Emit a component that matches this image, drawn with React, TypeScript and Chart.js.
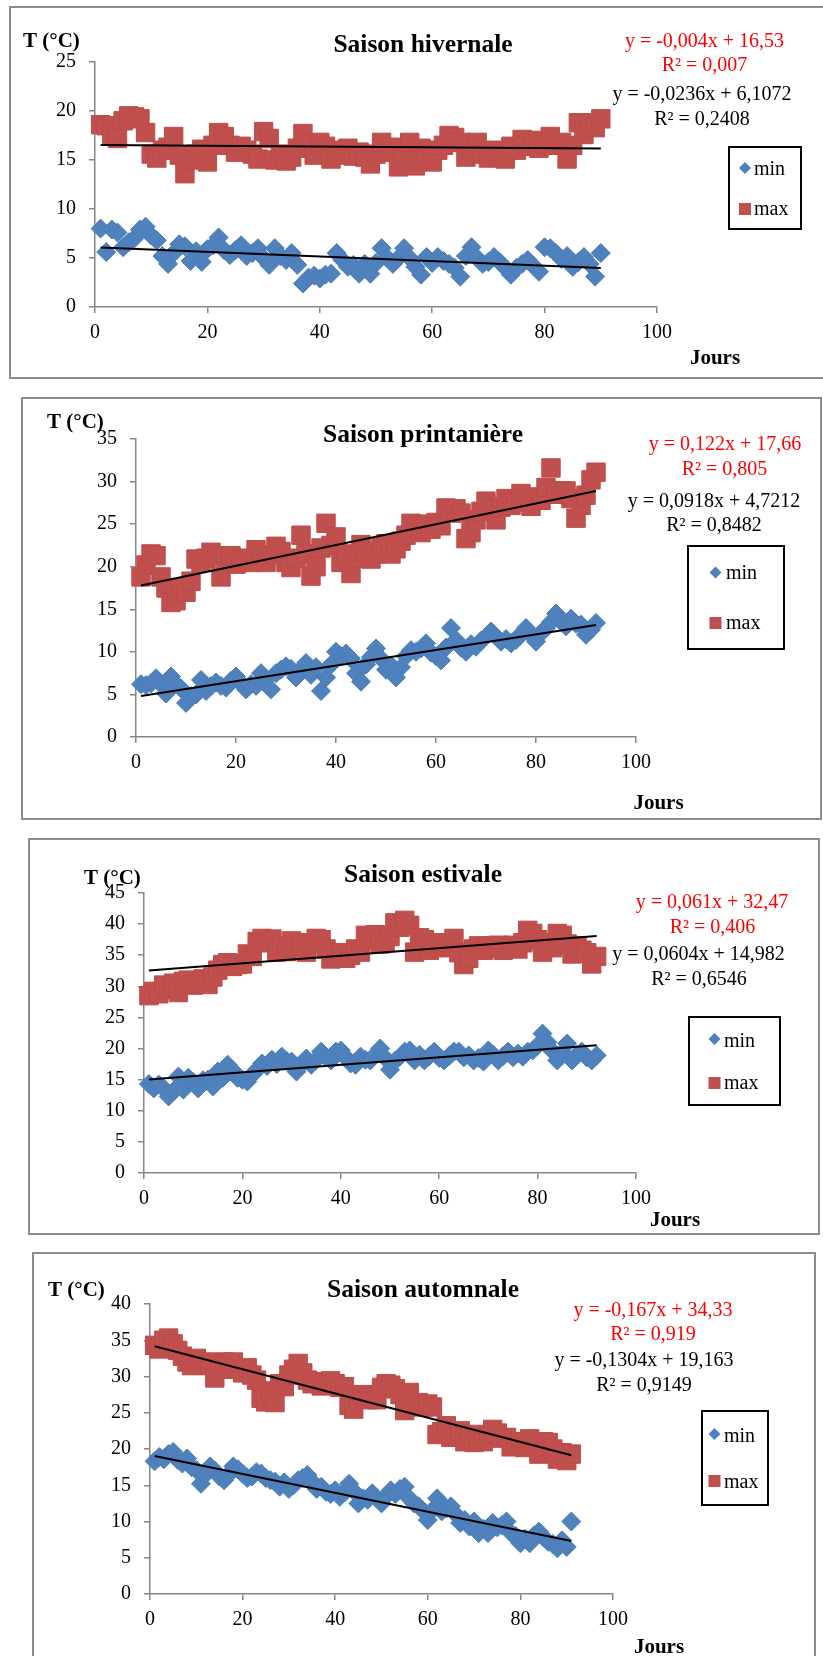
import React, { useEffect, useRef } from 'react';
import { Chart, registerables } from 'chart.js';
Chart.register(...registerables);

const SERIF = '"Liberation Serif", "Times New Roman", serif';
const BLUE = '#4F81BD';
const BLUE_B = '#4A7EBB';
const RED = '#C0504D';
const RED_B = '#BE4B48';

// ---------- Saison hivernale (90 jours) ----------
const winterMin = [
  8.0, 5.6, 7.9, 7.6, 6.1, 6.6, 7.0, 7.9, 8.2, 7.3,
  6.8, 5.2, 4.4, 5.5, 6.4, 6.2, 4.7, 5.7, 4.6, 5.9,
  6.3, 7.1, 5.8, 5.3, 5.8, 6.3, 5.2, 5.5, 6.0, 5.0,
  4.3, 6.0, 5.2, 4.8, 5.5, 4.3, 2.4, 3.0, 3.2, 2.9,
  3.3, 3.4, 5.5, 4.8, 4.1, 4.3, 3.4, 4.4, 3.4, 4.5,
  6.0, 5.0, 4.4, 5.0, 6.0, 5.0, 4.1, 3.3, 5.1, 4.5,
  5.1, 4.7, 4.4, 4.0, 3.1, 5.2, 6.1, 5.0, 4.4, 4.6,
  5.1, 4.6, 4.0, 3.3, 4.0, 4.4, 4.8, 4.2, 3.6, 6.1,
  6.0, 5.5, 4.9, 5.2, 4.1, 4.6, 5.1, 4.4, 3.1, 5.5,
];
const winterMax = [
  18.6, 18.5, 17.5, 17.2, 19.0, 19.5, 19.4, 19.2, 17.8, 15.6,
  15.2, 16.0, 16.3, 17.4, 15.5, 13.6, 15.0, 15.6, 16.1, 14.8,
  16.5, 17.8, 17.4, 16.5, 15.8, 16.4, 16.0, 15.6, 15.1, 17.9,
  17.2, 15.0, 15.6, 14.9, 15.3, 16.2, 17.7, 16.6, 15.5, 16.8,
  16.4, 15.1, 16.0, 15.5, 16.2, 15.4, 15.8, 15.3, 14.6, 15.6,
  16.8, 15.8, 16.3, 14.3, 15.2, 16.8, 14.4, 16.2, 15.5, 14.8,
  16.0, 16.5, 17.5, 17.3, 16.8, 15.3, 16.2, 16.8, 15.6, 15.2,
  16.0, 15.4, 15.1, 16.4, 16.0, 17.1, 16.4, 17.0, 16.2, 16.7,
  17.4, 16.5, 16.8, 15.1, 16.5, 18.8, 17.6, 18.8, 18.3, 19.2,
];
const winterTrendMin = [-0.0236, 6.1072];
const winterTrendMax = [-0.004, 16.53];
const winterEq = ['y = -0,004x + 16,53', 'R² = 0,007', 'y = -0,0236x + 6,1072', 'R² = 0,2408'];

// ---------- Saison printanière (92 jours) ----------
const springMin = [
  6.2, 6.1, 6.3, 6.9, 6.2, 5.1, 7.1, 6.2, 5.7, 4.0,
  4.8, 5.0, 6.7, 5.4, 6.0, 6.4, 6.0, 5.8, 6.6, 7.1,
  6.3, 5.6, 6.2, 6.0, 7.5, 6.8, 5.6, 7.5, 7.9, 8.3,
  8.0, 7.0, 7.9, 8.7, 7.3, 8.2, 5.4, 7.0, 8.5, 10.0,
  9.5, 9.8, 9.2, 7.5, 6.5, 8.5, 9.4, 10.4, 9.2, 7.9,
  8.4, 7.0, 8.2, 9.5, 10.2, 10.0, 10.4, 11.0, 9.9, 9.5,
  9.0, 10.5, 12.8, 11.4, 10.5, 10.0, 10.9, 10.6, 11.3, 11.8,
  12.4, 11.8, 11.2, 11.5, 11.0, 11.4, 12.1, 12.8, 12.0, 11.2,
  12.2, 12.8, 13.5, 14.5, 13.6, 13.0, 13.9, 13.3, 13.2, 12.0,
  12.6, 13.4,
];
const springMax = [
  18.8, 20.2, 21.5, 21.3, 18.8, 17.5, 15.8, 16.0, 17.5, 17.0,
  18.3, 20.9, 20.5, 21.0, 21.7, 21.3, 18.8, 20.6, 21.3, 20.3,
  20.8, 21.0, 20.5, 22.0, 21.2, 20.5, 21.4, 22.4, 21.8, 20.5,
  19.9, 21.0, 23.7, 21.5, 18.9, 20.0, 22.2, 25.1, 22.5, 23.5,
  20.5, 21.5, 19.2, 21.0, 22.6, 21.8, 20.9, 21.5, 22.3, 22.7,
  21.5, 22.1, 23.0, 23.7, 25.1, 24.8, 24.0, 25.0, 24.4, 25.2,
  24.8, 26.9, 26.5, 26.8, 26.3, 23.3, 24.0, 25.5, 26.5, 27.7,
  26.8, 25.5, 27.0, 28.0, 27.2, 27.6, 28.6, 28.0, 27.1, 28.2,
  27.8, 29.3, 31.6, 28.5, 28.9, 28.9, 28.0, 25.7, 27.2, 28.4,
  30.2, 31.1,
];
const springTrendMin = [0.0918, 4.7212];
const springTrendMax = [0.122, 17.66];
const springEq = ['y = 0,122x + 17,66', 'R² = 0,805', 'y = 0,0918x + 4,7212', 'R² = 0,8482'];

// ---------- Saison estivale (92 jours) ----------
const summerMin = [
  14.3, 13.6, 14.2, 13.6, 12.3, 13.2, 15.5, 13.4, 15.3, 14.6,
  13.6, 14.9, 15.0, 13.9, 16.3, 15.3, 17.4, 16.5, 15.3, 15.0,
  14.7, 15.8, 16.6, 17.6, 17.2, 18.2, 17.5, 18.7, 18.0, 17.9,
  16.3, 17.5, 18.4, 17.4, 18.2, 19.5, 18.6, 18.1, 19.5, 19.7,
  18.6, 17.6, 17.4, 18.7, 18.2, 18.1, 19.0, 20.0, 18.5, 16.6,
  18.0, 18.7, 19.5, 19.7, 18.1, 19.0, 18.1, 18.8, 19.5, 18.5,
  18.1, 18.8, 19.5, 19.5, 18.6, 18.9, 18.1, 18.5, 17.9, 19.7,
  19.0, 18.1, 18.8, 19.5, 18.6, 19.2, 18.7, 19.5, 19.7, 20.5,
  22.4, 21.0, 19.6, 18.1, 19.4, 20.8, 18.1, 19.0, 19.5, 18.6,
  18.1, 18.9,
];
const summerMax = [
  28.5, 29.2, 28.8, 30.2, 29.5, 30.5, 29.0, 30.8, 31.0, 30.2,
  30.5, 31.2, 30.3, 31.5, 32.6, 33.5, 33.8, 33.2, 33.5, 33.6,
  35.2, 34.8, 37.2, 37.7, 37.0, 37.6, 35.5, 36.5, 35.6, 37.3,
  36.2, 37.0, 35.5, 36.8, 37.7, 37.5, 36.0, 34.4, 35.0, 35.4,
  34.5, 35.0, 36.0, 35.5, 38.2, 37.5, 38.3, 36.8, 37.0, 38.0,
  40.2, 39.5, 40.6, 39.8, 35.5, 37.8, 37.5, 35.8, 36.8, 37.0,
  36.2, 37.0, 37.7, 35.4, 33.5, 34.5, 36.0, 36.5, 35.8, 36.5,
  36.2, 36.6, 35.8, 36.4, 36.6, 36.0, 37.0, 39.0, 38.5, 37.5,
  35.5, 37.0, 36.2, 38.5, 38.2, 36.8, 35.2, 36.5, 35.8, 35.4,
  33.6, 34.8,
];
const summerTrendMin = [0.0604, 14.982];
const summerTrendMax = [0.061, 32.47];
const summerEq = ['y = 0,061x + 32,47', 'R² = 0,406', 'y = 0,0604x + 14,982', 'R² = 0,6546'];

// ---------- Saison automnale (91 jours) ----------
const autumnMin = [
  18.3, 18.9, 18.6, 19.3, 19.6, 18.5, 18.0, 18.7, 17.5, 17.1,
  15.2, 16.5, 17.6, 17.0, 16.2, 15.7, 16.5, 17.6, 17.2, 16.6,
  16.0, 16.2, 16.8, 16.6, 16.0, 15.7, 15.5, 14.8, 15.4, 14.5,
  15.0, 15.7, 16.0, 16.4, 15.5, 14.5, 14.8, 14.1, 13.8, 14.3,
  13.4, 14.0, 15.2, 14.2, 12.5, 13.2, 13.0, 13.9, 13.2, 12.5,
  13.5, 14.3, 13.8, 14.5, 14.8, 13.2, 12.5, 12.1, 11.5, 10.2,
  11.6, 13.2, 11.4, 11.8, 12.1, 11.0, 9.8, 10.2, 9.3, 10.0,
  8.4, 9.0, 8.4, 9.8, 9.2, 9.5, 10.0, 8.4, 8.0, 7.0,
  7.6, 7.0, 8.1, 8.6, 7.8, 7.2, 6.9, 6.3, 7.4, 6.5,
  10.0,
];
const autumnMax = [
  34.3, 33.8, 35.0, 35.3, 34.5, 33.6, 32.8, 32.0, 31.5, 32.5,
  31.6, 32.0, 31.5, 29.8, 31.0, 32.0, 31.8, 32.0, 31.0, 30.5,
  31.2, 30.2, 29.5, 27.0, 26.5, 28.0, 26.4, 29.0, 28.6, 30.2,
  31.0, 31.8, 30.5, 29.5, 29.0, 29.3, 28.7, 29.2, 29.4, 29.0,
  28.5, 28.6, 26.0, 25.5, 27.0, 27.5, 26.8, 27.2, 26.8, 28.5,
  29.0, 28.8, 28.3, 27.5, 25.3, 27.8, 26.0, 26.4, 25.8, 26.2,
  25.8, 22.0, 22.4, 23.2, 21.6, 22.0, 22.5, 21.0, 22.0, 20.9,
  21.5, 21.0, 22.0, 22.7, 22.2, 21.5, 21.6, 20.3, 20.5, 21.0,
  20.2, 21.4, 20.5, 19.3, 21.0, 20.9, 20.0, 18.6, 19.5, 18.4,
  19.3,
];
const autumnTrendMin = [-0.1304, 19.163];
const autumnTrendMax = [-0.167, 34.33];
const autumnEq = ['y = -0,167x + 34,33', 'R² = 0,919', 'y = -0,1304x + 19,163', 'R² = 0,9149'];

const titles = ['Saison hivernale', 'Saison printanière', 'Saison estivale', 'Saison automnale'];
const yMaxes = [25, 35, 45, 40];
const xTicksMax = 100;
const xStep = 20;
const yStep = 5;
const legendLabels = ['min', 'max'];
const yAxisTitle = 'T (°C)';
const xAxisTitle = 'Jours';

type Panel = {
  title: string;
  yMax: number;
  min: number[];
  max: number[];
  trendMin: number[];
  trendMax: number[];
  eq: string[];
  frame: { x: number; y: number; w: number; h: number };
  area: { l: number; r: number; t: number; b: number };
  titleY: number;
  tLabel: [number, number];
  jours: [number, number];
  eqPos: [number, number][];
  legend: { x1: number; y1: number; x2: number; y2: number; mx: number; minY: number; maxY: number; tx: number; minBase: number; maxBase: number };
};

const PANELS: Panel[] = [
  {
    title: titles[0], yMax: yMaxes[0], min: winterMin, max: winterMax, trendMin: winterTrendMin, trendMax: winterTrendMax, eq: winterEq,
    frame: { x: 9, y: 6, w: 816, h: 373 },
    area: { l: 95, r: 657, t: 62, b: 307 },
    titleY: 52, tLabel: [23, 47], jours: [715, 364],
    eqPos: [[704.5, 47], [704.5, 71], [702, 100], [702, 125]],
    legend: { x1: 729, y1: 147, x2: 801, y2: 229, mx: 745, minY: 168, maxY: 209, tx: 754, minBase: 175, maxBase: 215 },
  },
  {
    title: titles[1], yMax: yMaxes[1], min: springMin, max: springMax, trendMin: springTrendMin, trendMax: springTrendMax, eq: springEq,
    frame: { x: 21, y: 397, w: 801, h: 423 },
    area: { l: 136, r: 636, t: 439, b: 737 },
    titleY: 442, tLabel: [47, 428], jours: [658.5, 809],
    eqPos: [[725, 450], [724.5, 475], [714, 507], [714, 531]],
    legend: { x1: 688, y1: 546, x2: 784, y2: 649, mx: 715.5, minY: 572.5, maxY: 623, tx: 726, minBase: 579, maxBase: 629 },
  },
  {
    title: titles[2], yMax: yMaxes[2], min: summerMin, max: summerMax, trendMin: summerTrendMin, trendMax: summerTrendMax, eq: summerEq,
    frame: { x: 28, y: 838, w: 792, h: 397 },
    area: { l: 144, r: 636, t: 893, b: 1173 },
    titleY: 882, tLabel: [84, 884], jours: [675, 1226],
    eqPos: [[712, 908], [712.5, 933], [698.5, 960], [699, 985]],
    legend: { x1: 689, y1: 1017, x2: 780, y2: 1105, mx: 714.5, minY: 1039, maxY: 1083, tx: 724, minBase: 1046.5, maxBase: 1089 },
  },
  {
    title: titles[3], yMax: yMaxes[3], min: autumnMin, max: autumnMax, trendMin: autumnTrendMin, trendMax: autumnTrendMax, eq: autumnEq,
    frame: { x: 32, y: 1252, w: 784, h: 420 },
    area: { l: 150, r: 613, t: 1304, b: 1594 },
    titleY: 1297, tLabel: [48, 1296], jours: [659, 1653],
    eqPos: [[653, 1316], [653, 1340], [644, 1366], [644, 1391]],
    legend: { x1: 702, y1: 1411, x2: 768, y2: 1505, mx: 714.5, minY: 1434, maxY: 1481, tx: 724, minBase: 1441.5, maxBase: 1488 },
  },
];

const AXIS_GRAY = '#868686';
const YW = 50;
const XH = 40;

function SeasonChart({ p }: { p: Panel }) {
  const ref = useRef<HTMLCanvasElement | null>(null);
  useEffect(() => {
    const canvas = ref.current;
    if (!canvas) return;
    const { x: fx, y: fy, w, h } = p.frame;
    const days = p.min.map((_, i) => i + 1);
    const pts = (arr: number[]) => arr.map((v, i) => ({ x: days[i], y: v }));
    const trend = (c: number[]) => {
      const x0 = days[0];
      const x1 = days[days.length - 1];
      return [{ x: x0, y: c[0] * x0 + c[1] }, { x: x1, y: c[0] * x1 + c[1] }];
    };
    const X = (v: number) => v - fx;
    const Y = (v: number) => v - fy;
    const annot = {
      id: 'annot',
      afterDraw(chart: any) {
        const ctx: CanvasRenderingContext2D = chart.ctx;
        ctx.save();
        ctx.textBaseline = 'alphabetic';
        ctx.fillStyle = '#000';
        ctx.font = `bold 25.5px ${SERIF}`;
        ctx.textAlign = 'center';
        ctx.fillText(p.title, X(423), Y(p.titleY));
        ctx.font = `bold 21px ${SERIF}`;
        ctx.textAlign = 'left';
        ctx.fillText(yAxisTitle, X(p.tLabel[0]), Y(p.tLabel[1]));
        ctx.textAlign = 'center';
        ctx.fillText(xAxisTitle, X(p.jours[0]), Y(p.jours[1]));
        ctx.font = `20px ${SERIF}`;
        p.eq.forEach((t, i) => {
          ctx.fillStyle = i < 2 ? '#FF0000' : '#000000';
          ctx.fillText(t, X(p.eqPos[i][0]), Y(p.eqPos[i][1]));
        });
        const L = p.legend;
        ctx.lineWidth = 2;
        ctx.strokeStyle = '#000';
        ctx.strokeRect(X(L.x1), Y(L.y1), L.x2 - L.x1, L.y2 - L.y1);
        const mx = X(L.mx);
        const my = Y(L.minY);
        ctx.fillStyle = BLUE;
        ctx.beginPath();
        ctx.moveTo(mx - 6, my);
        ctx.lineTo(mx, my - 6);
        ctx.lineTo(mx + 6, my);
        ctx.lineTo(mx, my + 6);
        ctx.closePath();
        ctx.fill();
        ctx.fillStyle = RED;
        ctx.fillRect(mx - 6, Y(L.maxY) - 6, 12, 12);
        ctx.fillStyle = '#000';
        ctx.textAlign = 'left';
        ctx.font = `20px ${SERIF}`;
        ctx.fillText(legendLabels[0], X(L.tx), Y(L.minBase));
        ctx.fillText(legendLabels[1], X(L.tx), Y(L.maxBase));
        ctx.restore();
      },
    };
    const gridOpts = { drawOnChartArea: false, drawTicks: true, tickLength: 6, color: AXIS_GRAY, lineWidth: 1.5 };
    const borderOpts = { display: true, color: AXIS_GRAY, width: 1.5 };
    const chart = new Chart(canvas, {
      type: 'scatter',
      data: {
        datasets: [
          { label: 'trend max', data: trend(p.trendMax), showLine: true, pointRadius: 0, borderColor: '#000', borderWidth: 2, order: 0, clip: false } as any,
          { label: 'trend min', data: trend(p.trendMin), showLine: true, pointRadius: 0, borderColor: '#000', borderWidth: 2, order: 0, clip: false } as any,
          { label: 'min', data: pts(p.min), pointStyle: 'rectRot', pointRadius: 9.5, pointBackgroundColor: BLUE, pointBorderColor: BLUE_B, pointBorderWidth: 1, backgroundColor: BLUE, borderColor: BLUE_B, order: 1, clip: false } as any,
          { label: 'max', data: pts(p.max), pointStyle: 'rect', pointRadius: 13, pointBackgroundColor: RED, pointBorderColor: RED_B, pointBorderWidth: 1, backgroundColor: RED, borderColor: RED_B, order: 2, clip: false } as any,
        ],
      },
      options: {
        responsive: false,
        animation: false,
        devicePixelRatio: 1,
        events: [],
        layout: {
          autoPadding: false,
          padding: { left: p.area.l - fx - YW, top: p.area.t - fy, right: fx + w - p.area.r, bottom: fy + h - p.area.b - XH },
        },
        plugins: { legend: { display: false }, tooltip: { enabled: false }, title: { display: false } },
        scales: {
          x: {
            type: 'linear', min: 0, max: xTicksMax,
            afterFit: (s: any) => { s.height = XH; },
            ticks: { stepSize: xStep, font: { family: SERIF, size: 20 }, color: '#000', padding: 8, maxRotation: 0, autoSkip: false },
            grid: gridOpts, border: borderOpts,
          },
          y: {
            type: 'linear', min: 0, max: p.yMax,
            afterFit: (s: any) => { s.width = YW; },
            ticks: { stepSize: yStep, font: { family: SERIF, size: 20 }, color: '#000', padding: 13, autoSkip: false },
            grid: gridOpts, border: borderOpts,
          },
        },
      } as any,
      plugins: [annot],
    });
    return () => chart.destroy();
  }, [p]);
  return (
    <canvas
      ref={ref}
      width={p.frame.w}
      height={p.frame.h}
      style={{ position: 'absolute', left: p.frame.x, top: p.frame.y, width: p.frame.w, height: p.frame.h }}
    />
  );
}

export default function App() {
  return (
    <div style={{ position: 'absolute', left: 0, top: 0, width: 823, height: 1656, overflow: 'hidden', background: '#fff' }}>
      {PANELS.map((p, i) => (
        <div
          key={'f' + i}
          style={{ position: 'absolute', left: p.frame.x, top: p.frame.y, width: p.frame.w, height: p.frame.h, border: '2px solid #8c8c8c', boxSizing: 'border-box' }}
        />
      ))}
      {PANELS.map((p, i) => (
        <SeasonChart key={'c' + i} p={p} />
      ))}
    </div>
  );
}
